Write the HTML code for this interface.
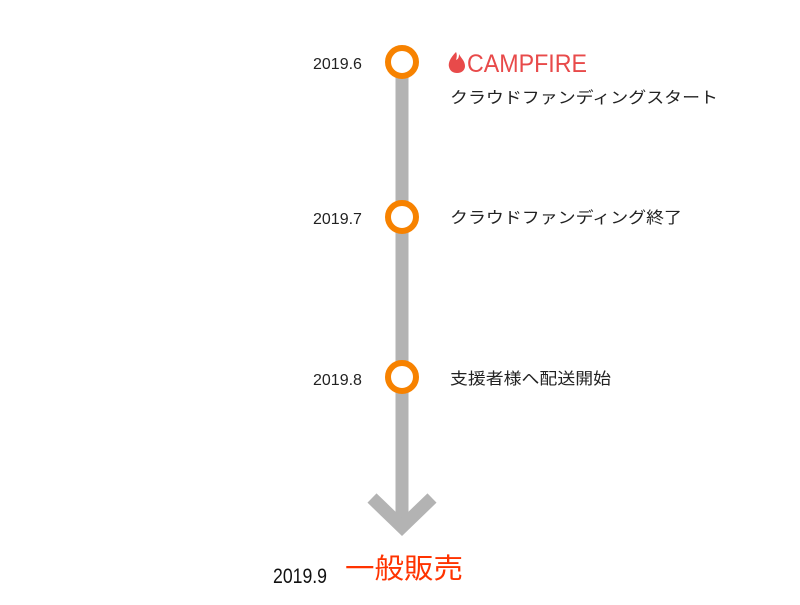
<!DOCTYPE html>
<html><head><meta charset="utf-8"><style>
body{margin:0;background:#fff;width:800px;height:600px;overflow:hidden}
svg text{font-family:"Liberation Sans","Noto Sans CJK JP",sans-serif}
</style></head><body>
<svg width="800" height="600" viewBox="0 0 800 600">
<line x1="402" y1="62" x2="402" y2="522" stroke="#b3b3b3" stroke-width="13"/>
<polyline points="372,498 402,527 432,498" fill="none" stroke="#b3b3b3" stroke-width="13" stroke-linejoin="miter" stroke-miterlimit="10"/>
<g fill="#fff" stroke="#f78200" stroke-width="6">
<circle cx="402" cy="62" r="14"/>
<circle cx="402" cy="217" r="14"/>
<circle cx="402" cy="377" r="14"/>
</g>
<g font-size="16" fill="#222">
<text x="313" y="69">2019.6</text>
<text x="313" y="224">2019.7</text>
<text x="313" y="385">2019.8</text>
<text x="450" y="103" textLength="268" lengthAdjust="spacingAndGlyphs">クラウドファンディングスタート</text>
<text x="450" y="223" textLength="232" lengthAdjust="spacingAndGlyphs">クラウドファンディング終了</text>
<text x="450" y="384" textLength="161" lengthAdjust="spacingAndGlyphs">支援者様へ配送開始</text>
</g>
<path d="M456,52 C450,58 448,63 449,67 C450,71 453,73 457,73 C462,73 465,70 465,66 C465,61 461,58 459,54 C459,58 458,59 456,60 C457,57 457,54 456,52Z" fill="#e84a4a"/>
<text x="467" y="72" font-size="25" fill="#e84a4a" textLength="120" lengthAdjust="spacingAndGlyphs">CAMPFIRE</text>
<text x="273" y="583" font-size="21" fill="#111" textLength="54" lengthAdjust="spacingAndGlyphs">2019.9</text>
<text x="345" y="578" font-size="28" fill="#ff3300" textLength="118" lengthAdjust="spacingAndGlyphs">一般販売</text>
</svg>
</body></html>
